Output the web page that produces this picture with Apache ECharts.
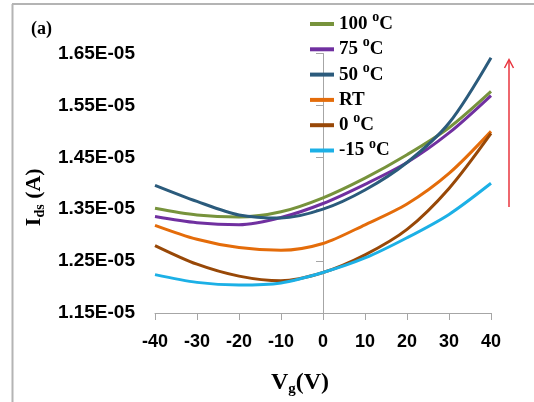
<!DOCTYPE html>
<html>
<head>
    <meta charset="utf-8">
    <title>Ids vs Vg</title>
    <script src="https://cdn.jsdelivr.net/npm/echarts@6/dist/echarts.min.js"></script>
    <style>
        html, body { margin: 0; padding: 0; background: #fff; }
        #main { width: 534px; height: 402px; }
    </style>
</head>
<body>
<div id="main"></div>
<script>
    // gate voltage (V)
    var vg = [-40, -30, -20, -10, 0, 10, 20, 30, 40];

    // drain current (A)
    var ids100 = [1.352e-5, 1.339e-5, 1.335e-5, 1.345e-5, 1.372e-5, 1.410e-5, 1.455e-5, 1.507e-5, 1.577e-5];
    var ids75  = [1.336e-5, 1.324e-5, 1.320e-5, 1.334e-5, 1.361e-5, 1.398e-5, 1.440e-5, 1.497e-5, 1.569e-5];
    var ids50  = [1.396e-5, 1.365e-5, 1.339e-5, 1.333e-5, 1.350e-5, 1.387e-5, 1.440e-5, 1.516e-5, 1.642e-5];
    var idsRT  = [1.319e-5, 1.292e-5, 1.276e-5, 1.271e-5, 1.284e-5, 1.320e-5, 1.360e-5, 1.419e-5, 1.500e-5];
    var ids0   = [1.280e-5, 1.244e-5, 1.221e-5, 1.212e-5, 1.228e-5, 1.262e-5, 1.311e-5, 1.390e-5, 1.496e-5];
    var idsM15 = [1.224e-5, 1.209e-5, 1.204e-5, 1.208e-5, 1.228e-5, 1.256e-5, 1.295e-5, 1.340e-5, 1.400e-5];

    var names  = ['100 oC', '75 oC', '50 oC', 'RT', '0 oC', '-15 oC'];
    var colors = ['#77933c', '#7030a0', '#2b5b7c', '#e46c0a', '#984807', '#1cb0e6'];
    var allData = [ids100, ids75, ids50, idsRT, ids0, idsM15];

    var chart = echarts.init(document.getElementById('main'));

    function pairs(ys) {
        return vg.map(function (x, i) { return [x, ys[i]]; });
    }

    // 1.35e-5 -> "1.35E-05"
    function sciLabel(v) {
        var p = v.toExponential(2).split('e');
        var ex = parseInt(p[1], 10);
        return p[0] + 'E' + (ex < 0 ? '-' : '+') + String(Math.abs(ex)).padStart(2, '0');
    }

    var serif = 'Liberation Serif';
    var sans = 'Liberation Sans';

    var series = allData.map(function (d, i) {
        return {
            name: names[i],
            type: 'line',
            data: pairs(d),
            smooth: 0.3,
            symbol: 'none',
            lineStyle: { width: 3, color: colors[i] },
            itemStyle: { color: colors[i] }
        };
    });

    var option = {
        animation: false,
        title: {
            text: '(a)',
            left: 26,
            top: 15,
            textStyle: { fontFamily: serif, fontWeight: 'bold', fontSize: 18, color: '#000' }
        },
        legend: {
            orient: 'vertical',
            left: 305,
            top: 5.5,
            itemWidth: 24,
            itemHeight: 4,
            itemGap: -1.7,
            icon: 'rect',
            data: names,
            formatter: function (n) {
                return n.replace(' oC', ' {s|o}C');
            },
            textStyle: {
                fontFamily: serif, fontWeight: 'bold', fontSize: 19, color: '#000', lineHeight: 27,
                rich: {
                    s: {
                        fontFamily: serif, fontWeight: 'bold', fontSize: 14, lineHeight: 14,
                        verticalAlign: 'top', padding: [0, 0, 13, 0], color: '#000'
                    }
                }
            }
        },
        grid: { left: 155, right: 43, top: 53.5, bottom: 87, containLabel: false },
        xAxis: {
            type: 'value',
            min: -40,
            max: 40,
            interval: 10,
            name: 'V{sub|g}(V)',
            nameLocation: 'middle',
            nameGap: 56,
            nameTextStyle: {
                fontFamily: serif, fontWeight: 'bold', fontSize: 24, color: '#000', lineHeight: 28,
                padding: [0, 46, 0, 0],
                rich: {
                    sub: { fontFamily: serif, fontWeight: 'bold', fontSize: 15, lineHeight: 15, verticalAlign: 'bottom', color: '#000' }
                }
            },
            axisLine: { lineStyle: { color: '#a6a6a6', width: 1 } },
            axisTick: { show: true, length: 7, lineStyle: { color: '#a6a6a6' } },
            axisLabel: { margin: 20, fontFamily: sans, fontWeight: 'bold', fontSize: 18, color: '#000' },
            splitLine: { show: false }
        },
        yAxis: {
            type: 'value',
            min: 1.15e-5,
            max: 1.65e-5,
            interval: 1e-6,
            name: 'I{sub|ds} (A)',
            nameLocation: 'middle',
            nameRotate: 90,
            nameGap: 104,
            nameTextStyle: {
                fontFamily: serif, fontWeight: 'bold', fontSize: 22, color: '#000', lineHeight: 26,
                padding: [0, 28, 0, 0],
                rich: {
                    sub: { fontFamily: serif, fontWeight: 'bold', fontSize: 14, lineHeight: 14, verticalAlign: 'bottom', color: '#000' }
                }
            },
            axisLine: { show: true, lineStyle: { color: '#a6a6a6', width: 1 } },
            axisTick: { show: true, length: 7, lineStyle: { color: '#a6a6a6' } },
            axisLabel: {
                margin: 20, fontFamily: sans, fontWeight: 'bold', fontSize: 19, color: '#000',
                formatter: sciLabel
            },
            splitLine: { show: false }
        },
        graphic: [
            // picture frame (left and top edges)
            { type: 'line', shape: { x1: 12.5, y1: 4, x2: 12.5, y2: 402 }, style: { stroke: '#b4b4b4', lineWidth: 2 } },
            { type: 'line', shape: { x1: 12, y1: 4, x2: 534, y2: 4 }, style: { stroke: '#b4b4b4', lineWidth: 2 } },
            // red arrow on the right
            { type: 'line', shape: { x1: 509, y1: 207, x2: 509, y2: 60 }, style: { stroke: '#e8343e', lineWidth: 1.5 } },
            { type: 'polyline', shape: { points: [[504.5, 68], [509, 59.5], [513.5, 68]] }, style: { stroke: '#e8343e', lineWidth: 1.5, fill: null } }
        ],
        series: series
    };

    chart.setOption(option);

    window.onresize = function () {
        chart.resize();
    };
</script>
</body>
</html>
